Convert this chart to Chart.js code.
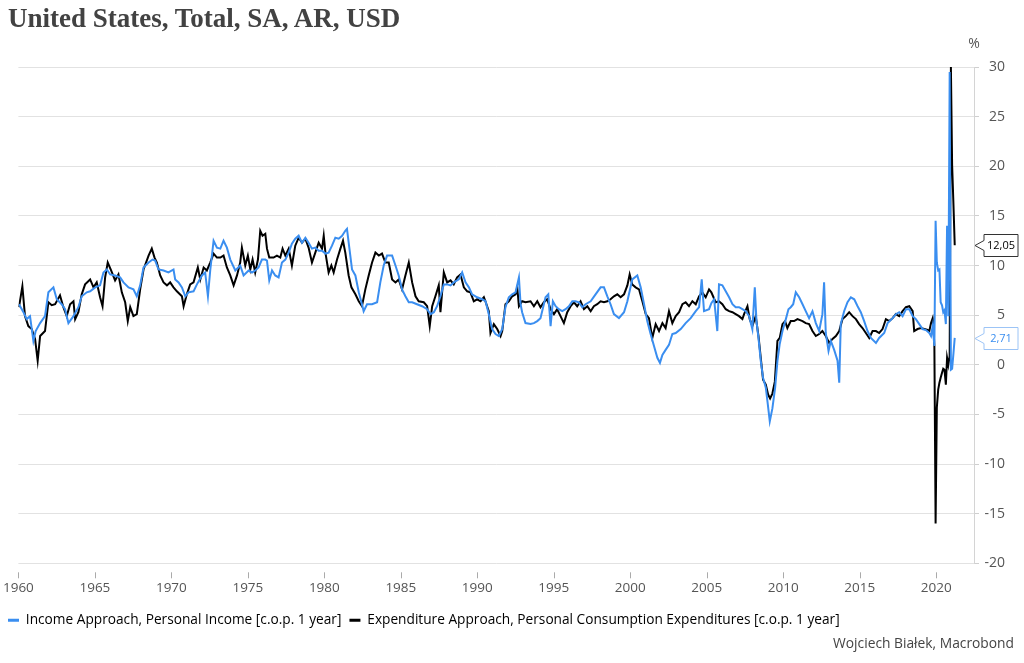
<!DOCTYPE html>
<html lang="en">
<head>
    <meta charset="UTF-8">
    <title>United States, Total, SA, AR, USD</title>
    <script src="https://cdn.jsdelivr.net/npm/chart.js@4.4.1/dist/chart.umd.min.js"></script>
</head>
<style>
    body {
        margin: 0;
        background: #fff;
        font-family: "Open Sans", sans-serif;
    }
    #wrap {
        position: relative;
        width: 1024px;
        height: 663px;
    }
    #title {
        position: absolute;
        left: 8px;
        top: 3px;
        font-family: "Liberation Serif", serif;
        font-weight: bold;
        font-size: 27px;
        color: #424242;
    }
    #source {
        position: absolute;
        right: 10px;
        top: 633px;
        font-size: 13.8px;
        color: #444;
    }
    canvas {
        position: absolute;
        left: 0;
        top: 0;
    }
</style>
<body>
<div id="wrap">
    <canvas id="chart" width="1024" height="663"></canvas>
    <div id="title">United States, Total, SA, AR, USD</div>
    <div id="source">Wojciech Białek, Macrobond</div>
</div>
<script>
    // [year, % y/y]
    const incomeData = [
        [1960.04, 6.1], [1960.33, 5.3], [1960.54, 4.6], [1960.76, 4.9], [1960.98, 2.4], [1961.13, 3.4],
        [1961.42, 4.2], [1961.74, 4.9], [1961.96, 7.3], [1962.29, 7.8], [1962.51, 6.6], [1962.83, 6.1],
        [1963.05, 5.6], [1963.27, 4.2], [1963.60, 4.9], [1963.92, 5.8], [1964.14, 6.9], [1964.47, 7.3],
        [1964.69, 7.4], [1965.02, 7.8], [1965.34, 8.0], [1965.56, 9.3], [1965.78, 9.6], [1966.00, 9.1],
        [1966.32, 9.0], [1966.65, 8.8], [1966.87, 8.3], [1967.20, 7.8], [1967.52, 7.6], [1967.74, 6.9],
        [1967.96, 8.0], [1968.18, 9.8], [1968.51, 10.3], [1968.77, 10.6], [1968.94, 10.5], [1969.16, 9.6],
        [1969.49, 9.5], [1969.81, 9.3], [1970.14, 9.6], [1970.25, 8.6], [1970.47, 8.3], [1970.69, 7.8],
        [1970.91, 6.9], [1971.12, 7.3], [1971.45, 7.4], [1971.67, 8.1], [1972.00, 9.0], [1972.21, 9.3],
        [1972.39, 6.9], [1972.54, 9.5], [1972.76, 12.5], [1972.98, 11.8], [1973.20, 11.7], [1973.41, 12.5],
        [1973.63, 11.8], [1973.85, 10.6], [1974.18, 9.5], [1974.50, 10.0], [1974.72, 9.0], [1975.05, 9.5],
        [1975.27, 9.3], [1975.48, 9.5], [1975.70, 9.8], [1975.92, 10.6], [1976.14, 10.6], [1976.25, 10.5],
        [1976.40, 8.5], [1976.58, 9.5], [1976.79, 9.0], [1977.01, 8.8], [1977.23, 10.3], [1977.45, 10.6],
        [1977.67, 11.3], [1977.88, 12.2], [1978.10, 12.7], [1978.32, 13.0], [1978.54, 12.3], [1978.76, 12.8],
        [1978.97, 12.3], [1979.19, 11.7], [1979.41, 11.8], [1979.63, 11.5], [1979.85, 11.5], [1980.07, 11.2],
        [1980.28, 11.3], [1980.50, 12.0], [1980.72, 12.8], [1980.94, 12.7], [1981.16, 13.0], [1981.37, 13.5],
        [1981.48, 13.7], [1981.64, 11.7], [1981.81, 9.6], [1982.03, 9.0], [1982.25, 7.3], [1982.46, 6.1],
        [1982.57, 5.4], [1982.79, 6.1], [1983.12, 6.1], [1983.45, 6.3], [1983.66, 8.3], [1983.88, 10.0],
        [1984.10, 11.0], [1984.43, 11.0], [1984.65, 10.0], [1984.86, 9.0], [1985.08, 7.6], [1985.30, 6.9],
        [1985.52, 6.3], [1985.74, 6.3], [1986.06, 6.1], [1986.39, 5.9], [1986.72, 5.6], [1986.94, 5.1],
        [1987.16, 5.3], [1987.37, 5.9], [1987.59, 6.9], [1987.81, 8.1], [1988.03, 8.1], [1988.25, 8.0],
        [1988.46, 8.3], [1988.79, 8.6], [1989.01, 9.3], [1989.23, 8.3], [1989.45, 7.8], [1989.66, 7.1],
        [1989.99, 6.8], [1990.32, 6.6], [1990.54, 6.4], [1990.75, 5.1], [1990.97, 3.6], [1991.19, 3.1],
        [1991.41, 2.9], [1991.63, 3.6], [1991.84, 5.8], [1992.06, 6.8], [1992.28, 7.1], [1992.50, 7.3],
        [1992.72, 8.8], [1992.83, 6.1], [1992.93, 5.3], [1993.15, 4.2], [1993.48, 4.1], [1993.70, 4.2],
        [1993.92, 4.4], [1994.13, 4.7], [1994.46, 6.8], [1994.64, 7.1], [1994.79, 3.9], [1994.94, 6.4],
        [1995.12, 5.9], [1995.33, 5.6], [1995.55, 5.4], [1995.77, 5.6], [1995.99, 5.9], [1996.21, 6.4],
        [1996.42, 6.4], [1996.64, 6.3], [1996.86, 5.8], [1997.08, 6.1], [1997.41, 6.4], [1997.73, 7.1],
        [1998.06, 7.8], [1998.28, 7.8], [1998.50, 6.9], [1998.71, 6.1], [1998.93, 5.1], [1999.26, 4.7],
        [1999.59, 5.3], [1999.81, 6.4], [2000.13, 8.6], [2000.46, 9.0], [2000.68, 7.8], [2000.90, 6.1],
        [2001.11, 4.4], [2001.33, 3.1], [2001.55, 1.9], [2001.77, 0.7], [2001.94, 0.2], [2002.10, 1.0],
        [2002.31, 1.5], [2002.53, 2.0], [2002.75, 3.1], [2002.97, 3.2], [2003.30, 3.6], [2003.62, 4.2],
        [2003.95, 4.7], [2004.28, 5.4], [2004.50, 5.8], [2004.67, 8.6], [2004.82, 5.4], [2005.15, 5.6],
        [2005.30, 6.2], [2005.48, 6.6], [2005.69, 3.4], [2005.80, 8.1], [2006.02, 8.0], [2006.24, 7.4],
        [2006.46, 6.8], [2006.68, 6.1], [2006.89, 5.8], [2007.11, 5.8], [2007.33, 5.6], [2007.55, 5.4],
        [2007.77, 4.9], [2007.98, 3.6], [2008.14, 7.8], [2008.25, 4.4], [2008.38, 2.7], [2008.53, 0.4],
        [2008.68, -1.3], [2008.86, -2.3], [2008.97, -3.7], [2009.12, -5.7], [2009.29, -4.4], [2009.47, -2.3],
        [2009.62, 0.4], [2009.77, 2.1], [2009.95, 3.4], [2010.17, 4.6], [2010.34, 5.6], [2010.49, 5.8],
        [2010.65, 6.1], [2010.82, 7.3], [2011.04, 6.8], [2011.26, 6.1], [2011.47, 5.4], [2011.69, 4.7],
        [2011.91, 5.4], [2012.13, 4.2], [2012.35, 3.4], [2012.56, 5.1], [2012.67, 8.3], [2012.78, 3.2],
        [2012.96, 1.4], [2013.11, 2.4], [2013.33, 1.5], [2013.55, 0.4], [2013.66, -1.8], [2013.76, 4.1],
        [2013.98, 5.4], [2014.20, 6.3], [2014.42, 6.8], [2014.64, 6.6], [2014.86, 5.9], [2015.07, 5.3],
        [2015.29, 4.4], [2015.51, 3.4], [2015.73, 2.7], [2016.06, 2.2], [2016.27, 2.7], [2016.60, 3.2],
        [2016.82, 4.2], [2017.15, 4.7], [2017.36, 5.1], [2017.58, 5.3], [2017.80, 4.9], [2018.02, 5.6],
        [2018.24, 5.6], [2018.46, 4.9], [2018.67, 4.6], [2018.89, 4.1], [2019.11, 3.6], [2019.33, 3.5],
        [2019.55, 3.2], [2019.66, 2.9], [2019.77, 3.9], [2019.88, 1.9], [2019.96, 14.5], [2020.04, 10.3],
        [2020.13, 9.5], [2020.21, 9.6], [2020.29, 6.3], [2020.38, 6.0], [2020.46, 5.3], [2020.54, 5.5],
        [2020.63, 4.1], [2020.71, 14.0], [2020.79, 4.9], [2020.88, 29.5], [2020.96, -0.5], [2021.04, -0.4],
        [2021.13, 1.2], [2021.21, 2.71]
    ];

    const pceData = [
        [1960.04, 5.8], [1960.26, 7.9], [1960.43, 4.9], [1960.65, 3.9], [1960.87, 3.6], [1961.09, 2.6],
        [1961.26, 0.4], [1961.42, 2.9], [1961.74, 3.4], [1961.96, 6.3], [1962.18, 6.0], [1962.40, 6.1],
        [1962.72, 7.0], [1962.94, 5.8], [1963.16, 4.9], [1963.38, 6.1], [1963.60, 6.4], [1963.71, 4.6],
        [1963.92, 5.3], [1964.14, 7.1], [1964.36, 8.1], [1964.69, 8.6], [1964.91, 7.8], [1965.12, 8.3],
        [1965.34, 6.8], [1965.50, 5.9], [1965.67, 8.8], [1965.84, 10.3], [1966.06, 9.5], [1966.32, 8.5],
        [1966.54, 9.1], [1966.76, 7.3], [1966.98, 6.3], [1967.15, 4.4], [1967.31, 5.8], [1967.52, 4.9],
        [1967.74, 5.1], [1967.96, 7.6], [1968.18, 9.6], [1968.51, 11.0], [1968.72, 11.7], [1968.90, 10.8],
        [1969.05, 10.3], [1969.27, 9.0], [1969.49, 8.3], [1969.71, 8.0], [1969.92, 8.3], [1970.14, 7.8],
        [1970.36, 7.4], [1970.69, 6.9], [1970.80, 5.9], [1971.01, 7.1], [1971.23, 8.1], [1971.45, 8.3],
        [1971.73, 9.8], [1971.89, 8.6], [1972.11, 9.8], [1972.32, 9.5], [1972.54, 10.3], [1972.76, 11.2],
        [1972.98, 10.8], [1973.20, 10.8], [1973.41, 11.0], [1973.63, 9.8], [1973.85, 9.0], [1974.07, 8.0],
        [1974.29, 9.0], [1974.50, 10.3], [1974.61, 11.8], [1974.83, 10.0], [1975.00, 11.0], [1975.16, 9.6],
        [1975.31, 10.6], [1975.48, 9.3], [1975.66, 10.6], [1975.81, 13.5], [1975.96, 13.0], [1976.14, 13.2],
        [1976.25, 11.7], [1976.40, 10.8], [1976.68, 10.8], [1976.90, 11.0], [1977.12, 10.8], [1977.27, 11.7],
        [1977.45, 11.0], [1977.67, 11.7], [1977.88, 10.0], [1978.10, 12.0], [1978.32, 12.8], [1978.54, 12.3],
        [1978.76, 12.7], [1978.97, 11.8], [1979.19, 10.3], [1979.41, 11.3], [1979.63, 12.3], [1979.85, 11.7],
        [1979.96, 13.0], [1980.07, 11.3], [1980.28, 9.3], [1980.46, 10.0], [1980.61, 9.3], [1980.83, 10.6],
        [1981.05, 11.7], [1981.22, 12.5], [1981.37, 11.3], [1981.59, 9.0], [1981.77, 7.8], [1982.03, 7.1],
        [1982.25, 6.4], [1982.46, 5.9], [1982.68, 7.6], [1982.90, 9.0], [1983.12, 10.3], [1983.34, 11.3],
        [1983.56, 11.0], [1983.77, 11.2], [1983.99, 10.3], [1984.21, 10.3], [1984.43, 8.6], [1984.65, 8.3],
        [1984.86, 8.6], [1985.08, 7.6], [1985.30, 9.0], [1985.52, 10.3], [1985.74, 8.3], [1985.96, 6.9],
        [1986.17, 6.4], [1986.50, 6.3], [1986.72, 5.9], [1986.89, 3.9], [1987.05, 5.9], [1987.26, 6.9],
        [1987.48, 8.0], [1987.59, 5.3], [1987.81, 9.3], [1988.03, 8.3], [1988.25, 8.5], [1988.46, 8.1],
        [1988.68, 8.8], [1988.90, 9.1], [1989.12, 7.8], [1989.34, 7.4], [1989.55, 7.3], [1989.77, 6.4],
        [1989.99, 6.6], [1990.21, 6.4], [1990.43, 6.8], [1990.53, 6.4], [1990.75, 5.4], [1990.86, 3.2],
        [1991.08, 4.1], [1991.30, 3.6], [1991.52, 2.9], [1991.63, 3.4], [1991.84, 6.1], [1992.06, 6.4],
        [1992.28, 6.9], [1992.50, 7.1], [1992.61, 7.8], [1992.72, 5.9], [1992.93, 6.4], [1993.15, 6.3],
        [1993.48, 6.4], [1993.70, 5.9], [1993.92, 6.4], [1994.13, 5.8], [1994.35, 6.3], [1994.57, 6.6],
        [1994.79, 5.6], [1995.01, 5.1], [1995.22, 5.6], [1995.44, 4.9], [1995.66, 4.2], [1995.88, 5.3],
        [1996.10, 5.9], [1996.32, 6.3], [1996.53, 5.9], [1996.75, 6.4], [1996.97, 5.6], [1997.19, 5.9],
        [1997.41, 5.4], [1997.62, 5.9], [1997.84, 6.1], [1998.06, 6.4], [1998.28, 6.3], [1998.50, 6.4],
        [1998.71, 6.6], [1998.93, 6.9], [1999.15, 7.1], [1999.37, 6.8], [1999.59, 7.1], [1999.81, 8.0],
        [1999.96, 9.1], [2000.13, 8.1], [2000.35, 7.8], [2000.57, 7.6], [2000.79, 6.4], [2001.01, 5.1],
        [2001.22, 4.7], [2001.44, 2.7], [2001.66, 4.1], [2001.88, 3.4], [2002.10, 4.2], [2002.31, 3.7],
        [2002.53, 5.4], [2002.75, 4.2], [2002.97, 4.9], [2003.19, 5.3], [2003.41, 6.1], [2003.62, 6.3],
        [2003.84, 5.9], [2004.06, 6.4], [2004.28, 6.1], [2004.50, 6.9], [2004.71, 7.3], [2004.93, 6.8],
        [2005.15, 7.6], [2005.30, 7.3], [2005.58, 6.3], [2005.80, 6.4], [2006.02, 6.1], [2006.24, 5.6],
        [2006.46, 5.4], [2006.68, 5.3], [2006.89, 5.1], [2007.11, 4.9], [2007.33, 4.6], [2007.44, 5.1],
        [2007.66, 5.9], [2007.81, 4.6], [2007.98, 3.9], [2008.20, 4.9], [2008.38, 2.9], [2008.53, 0.7],
        [2008.68, -1.5], [2008.86, -2.0], [2009.01, -3.0], [2009.14, -3.4], [2009.29, -2.9], [2009.45, -1.7],
        [2009.62, 2.4], [2009.77, 2.7], [2009.95, 4.1], [2010.12, 4.4], [2010.27, 3.7], [2010.49, 4.4],
        [2010.71, 4.4], [2010.93, 4.6], [2011.26, 4.4], [2011.47, 4.2], [2011.69, 4.1], [2011.91, 3.4],
        [2012.13, 2.9], [2012.35, 3.1], [2012.56, 3.4], [2012.78, 2.9], [2013.00, 2.2], [2013.22, 2.6],
        [2013.44, 2.9], [2013.66, 3.4], [2013.87, 4.6], [2014.09, 4.9], [2014.31, 5.3], [2014.53, 4.9],
        [2014.75, 4.6], [2014.96, 4.1], [2015.18, 3.7], [2015.40, 3.2], [2015.62, 2.7], [2015.84, 3.4],
        [2016.06, 3.4], [2016.27, 3.2], [2016.49, 3.6], [2016.71, 4.6], [2016.93, 4.4], [2017.15, 4.7],
        [2017.36, 5.1], [2017.58, 4.9], [2017.80, 5.4], [2018.02, 5.8], [2018.24, 5.9], [2018.46, 5.4],
        [2018.56, 3.4], [2018.78, 3.6], [2019.00, 3.7], [2019.22, 3.6], [2019.44, 3.5], [2019.55, 3.4],
        [2019.66, 4.2], [2019.77, 4.7], [2019.81, 4.2], [2019.88, 1.9], [2019.96, -16.0], [2020.04, -4.3],
        [2020.13, -2.5], [2020.21, -1.8], [2020.29, -1.3], [2020.38, -0.8], [2020.46, -0.4], [2020.54, -0.5],
        [2020.63, -2.0], [2020.71, 0.7], [2020.79, 0.0], [2020.88, 0.9], [2020.96, 30.0], [2021.04, 20.1],
        [2021.13, 16.0], [2021.21, 12.05]
    ];

    const seriesNames = [
        'Income Approach, Personal Income [c.o.p. 1 year]',
        'Expenditure Approach, Personal Consumption Expenditures [c.o.p. 1 year]'
    ];
    const seriesColors = ['#3a8ef0', '#000000'];
    const tagBorders = ['#9cc4f6', '#333333'];

    const yMin = -20, yMax = 30, yStep = 5;
    const xMin = 1960, xMax = 2022.47, xStep = 5;

    const tickFont = { family: 'Open Sans', size: 13.5 };

    // "%" unit, small x tick marks and the end-value tags
    const extras = {
        id: 'extras',
        afterDraw(chart) {
            const ctx = chart.ctx;
            const xs = chart.scales.x, ys = chart.scales.y;
            ctx.save();
            ctx.fillStyle = '#555';
            ctx.font = '14px "Open Sans"';
            ctx.textAlign = 'center';
            ctx.textBaseline = 'middle';
            ctx.fillText('%', ys.left, 44);

            ctx.strokeStyle = '#aaa';
            ctx.lineWidth = 1;
            xs.ticks.forEach(t => {
                const px = Math.round(xs.getPixelForValue(t.value)) + 0.5;
                ctx.beginPath();
                ctx.moveTo(px, chart.chartArea.bottom + 9);
                ctx.lineTo(px, chart.chartArea.bottom + 15);
                ctx.stroke();
            });

            chart.data.datasets.forEach((ds, i) => {
                const last = ds.data[ds.data.length - 1];
                const py = Math.round(ys.getPixelForValue(last.y)) + 0.5;
                const tip = ys.left + 1, bx = ys.left + 10, bw = 34, h = 11;
                ctx.beginPath();
                ctx.moveTo(tip, py);
                ctx.lineTo(bx, py - 5);
                ctx.lineTo(bx, py - h);
                ctx.lineTo(bx + bw, py - h);
                ctx.lineTo(bx + bw, py + h);
                ctx.lineTo(bx, py + h);
                ctx.lineTo(bx, py + 5);
                ctx.closePath();
                ctx.fillStyle = '#fff';
                ctx.fill();
                ctx.strokeStyle = tagBorders[i];
                ctx.stroke();
                ctx.fillStyle = seriesColors[i];
                ctx.font = '11px "Open Sans"';
                ctx.fillText(last.y.toFixed(2).replace('.', ','), bx + bw / 2, py + 0.5);
            });
            ctx.restore();
        }
    };

    new Chart(document.getElementById('chart'), {
        type: 'line',
        data: {
            datasets: [incomeData, pceData].map((arr, i) => ({
                label: seriesNames[i],
                data: arr.map(([x, y]) => ({ x, y })),
                borderColor: seriesColors[i],
                backgroundColor: seriesColors[i],
                borderWidth: 2,
                pointRadius: 0,
                tension: 0
            }))
        },
        options: {
            responsive: false,
            animation: false,
            layout: { padding: { top: 67, left: 0, right: 19, bottom: 26 } },
            scales: {
                x: {
                    type: 'linear',
                    min: xMin,
                    max: xMax,
                    grid: { display: false },
                    border: { display: false },
                    ticks: {
                        stepSize: xStep,
                        includeBounds: false,
                        maxRotation: 0,
                        padding: 9,
                        color: '#555',
                        font: tickFont,
                        callback: v => String(v)
                    },
                    afterFit(s) {
                        s.height = 42;
                        s.paddingLeft = 18.4;
                    }
                },
                y: {
                    position: 'right',
                    min: yMin,
                    max: yMax,
                    grid: { color: '#e2e2e2', tickLength: 5, tickColor: '#cfcfcf' },
                    border: { display: true, color: '#d4d4d4' },
                    ticks: {
                        stepSize: yStep,
                        crossAlign: 'far',
                        color: '#555',
                        font: { family: 'Open Sans', size: 14 }
                    },
                    afterFit(s) {
                        s.width = 31;
                    }
                }
            },
            plugins: {
                tooltip: { enabled: false },
                legend: {
                    position: 'bottom',
                    align: 'start',
                    labels: {
                        padding: 8,
                        boxWidth: 11,
                        boxHeight: 3,
                        color: '#444',
                        font: { family: 'Open Sans', size: 13.7 },
                        generateLabels: chart => chart.data.datasets.map((ds, i) => ({
                            text: ds.label,
                            fillStyle: seriesColors[i],
                            strokeStyle: seriesColors[i],
                            lineWidth: 0,
                            datasetIndex: i
                        }))
                    }
                }
            }
        },
        plugins: [extras]
    });
</script>
</body>
</html>
